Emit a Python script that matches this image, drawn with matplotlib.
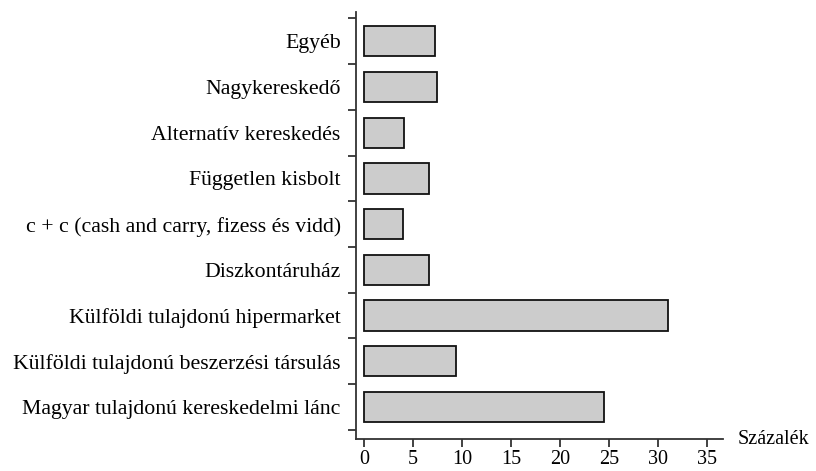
import numpy as np
import matplotlib
matplotlib.use("Agg")
import matplotlib.pyplot as plt

# Categories (bottom to top) and values in percent
categories = [
    "Magyar tulajdonú kereskedelmi lánc",
    "Külföldi tulajdonú beszerzési társulás",
    "Külföldi tulajdonú hipermarket",
    "Diszkontáruház",
    "c + c (cash and carry, fizess és vidd)",
    "Független kisbolt",
    "Alternatív kereskedés",
    "Nagykereskedő",
    "Egyéb",
]
values = [24.5, 9.4, 31.0, 6.6, 4.0, 6.6, 4.1, 7.5, 7.2]
x_ticks = [0, 5, 10, 15, 20, 25, 30, 35]

plt.rcParams['font.family'] = ['Liberation Serif', 'DejaVu Serif']

fig = plt.figure(figsize=(8.16, 4.71), dpi=100)
ax = fig.add_axes([0.4363, 0.0679, 0.4497, 0.9066])

y = np.arange(len(categories))
ax.barh(y, values, height=0.66, color="#cccccc", edgecolor="#111111", linewidth=1.3)

ax.set_xlim(-0.8, 36.6)
ax.set_ylim(-0.7, 8.64)

# boundary ticks between bars, labels at bar centres
ax.set_yticks(np.arange(-0.5, len(categories), 1.0))
ax.set_yticklabels([])
ax.set_yticks(y, minor=True)
ax.set_yticklabels(categories, minor=True, fontsize=15.7)
ax.tick_params(axis="y", which="minor", length=0, pad=11)
ax.tick_params(axis="y", which="major", length=6, width=1.3, color="#333333")

ax.set_xticks(x_ticks)
ax.set_xticklabels([str(t) for t in x_ticks], fontsize=14.5)
ax.tick_params(axis="x", length=6, width=1.3, color="#333333", pad=2)

for side in ["top", "right"]:
    ax.spines[side].set_visible(False)
for side in ["left", "bottom"]:
    ax.spines[side].set_linewidth(1.3)
    ax.spines[side].set_color("#333333")

ax.text(1.04, 0.0, "Százalék", transform=ax.transAxes, fontsize=14.5,
        ha="left", va="center")

fig.savefig("out.png", dpi=100)
